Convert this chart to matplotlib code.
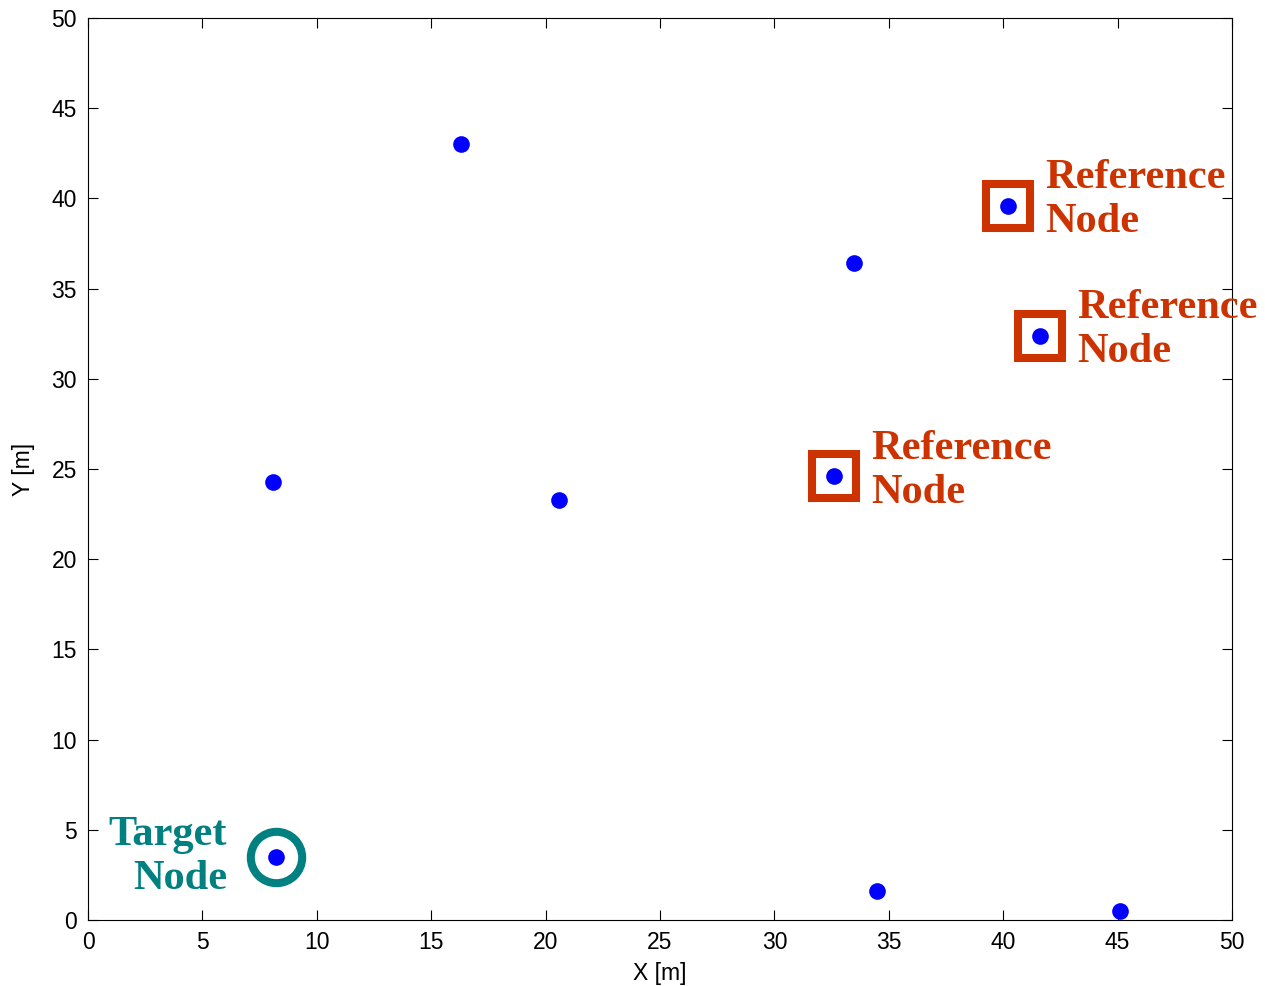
import matplotlib
matplotlib.use("Agg")
import matplotlib.pyplot as plt

# node positions [m]
node_x = [16.3, 33.5, 40.2, 41.6, 8.1, 20.6, 32.6, 8.2, 34.5, 45.1]
node_y = [43.0, 36.4, 39.6, 32.4, 24.3, 23.3, 24.6, 3.5, 1.6, 0.5]

ref_x = [40.2, 41.6, 32.6]
ref_y = [39.6, 32.4, 24.6]

target_x = [8.2]
target_y = [3.5]

ref_color = '#CC3300'
target_color = '#008080'

plt.rcParams['font.family'] = ['Liberation Sans', 'DejaVu Sans']

fig = plt.figure(figsize=(12.65, 9.86), dpi=100)
ax = fig.add_axes([0.0696, 0.0669, 0.9043, 0.9148])

ax.plot(ref_x, ref_y, 's', ms=32, mfc='none', mec=ref_color, mew=5.8, zorder=2)
ax.plot(target_x, target_y, 'o', ms=37, mfc='none', mec=target_color, mew=5.8, zorder=2)
ax.plot(node_x, node_y, 'o', ms=12, color='#0000FF', mec='none', zorder=3)

for x, y in zip(ref_x, ref_y):
    ax.annotate("Reference\nNode", (x, y), xytext=(27, 4), textcoords='offset points',
                ha='left', va='center', fontsize=30.5, fontweight='bold',
                family='Liberation Serif', color=ref_color, linespacing=1.2,
                annotation_clip=False)

for x, y in zip(target_x, target_y):
    ax.annotate("Target\nNode", (x, y), xytext=(-35, 0), textcoords='offset points',
                ha='right', va='center', multialignment='right', fontsize=30.5,
                fontweight='bold', family='Liberation Serif', color=target_color,
                linespacing=1.2, annotation_clip=False)

ax.set_xlim(0, 50)
ax.set_ylim(0, 50)
ax.set_xticks(range(0, 51, 5))
ax.set_yticks(range(0, 51, 5))
ax.tick_params(direction='in', top=True, right=True, length=7, labelsize=16.5, width=0.8)
ax.tick_params(axis='x', pad=8)
ax.tick_params(axis='y', pad=8)
ax.set_xlabel("X [m]", fontsize=16.5, labelpad=6)
ax.set_ylabel("Y [m]", fontsize=16.5, labelpad=12)

fig.savefig("out.png", dpi=100)
